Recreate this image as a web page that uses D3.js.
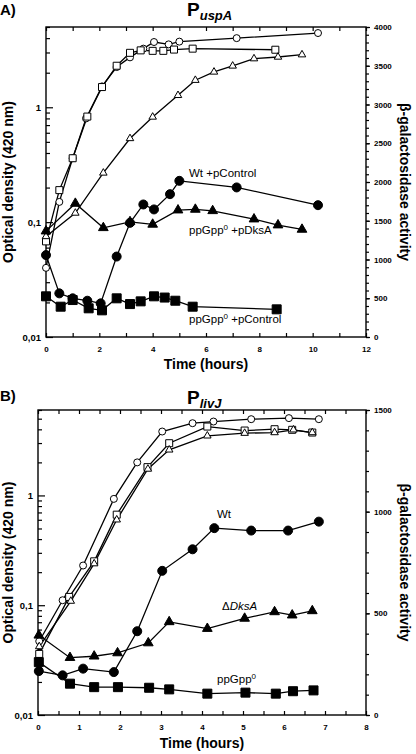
<!DOCTYPE html>
<html><head><meta charset="utf-8">
<script src="https://cdn.jsdelivr.net/npm/d3@7"></script>
<style>
html,body{margin:0;padding:0;background:#fff;}
svg{display:block;font-family:"Liberation Sans",Arial,Helvetica,sans-serif;}
</style></head>
<body>
<svg id="c" width="416" height="754"></svg>
<script>
// ---------- Panel A : P uspA ----------
const aXTicks = [0, 2, 4, 6, 8, 10, 12];
const aRightTicks = [0, 500, 1000, 1500, 2000, 2500, 3000, 3500, 4000];
const aLeftTicks = [0.01, 0.1, 1];
const aLeftLabels = ["0,01", "0,1", "1"];

const aT_odCircle = [0, 0.5, 1, 1.5, 2.1, 2.65, 3.15, 3.65, 4.05, 4.6, 5, 7.15, 10.2];
const aOdCircle   = [0.04, 0.15, 0.36, 0.8, 1.52, 2.24, 2.72, 3.24, 3.7, 3.53, 3.73, 4.0, 4.43];
const aT_odSquare = [0, 0.5, 1, 1.55, 2.1, 2.65, 3.15, 3.55, 4.0, 4.4, 4.8, 5.5, 8.6];
const aOdSquare   = [0.068, 0.19, 0.36, 0.83, 1.5, 2.3, 2.98, 3.13, 3.1, 3.1, 3.18, 3.24, 3.17];
const aT_odTri    = [0, 1.1, 2.15, 3.15, 4.0, 4.95, 5.6, 6.3, 7.0, 7.8, 8.7, 9.6];
const aOdTri      = [0.075, 0.12, 0.268, 0.535, 0.823, 1.27, 1.72, 2.03, 2.29, 2.65, 2.74, 2.87];

const aT_galWt    = [0, 0.5, 1, 1.55, 2.05, 2.65, 3.15, 3.65, 4.05, 4.65, 5, 7.15, 10.2];
const aGalWt      = [1057, 563, 499, 468, 434, 1038, 1473, 1710, 1646, 1843, 2015, 1930, 1701];
const aT_galDksA  = [0, 1.1, 2.15, 3.15, 4.0, 4.95, 5.6, 6.25, 7.8, 8.7, 9.6];
const aGalDksA    = [1366, 1723, 1409, 1486, 1453, 1637, 1646, 1628, 1521, 1444, 1388];
const aT_galCtrl  = [0, 0.55, 1, 1.6, 2.1, 2.65, 3.15, 3.55, 4.05, 4.45, 4.85, 5.5, 8.65];
const aGalCtrl    = [525, 391, 477, 370, 344, 499, 425, 460, 525, 509, 468, 391, 357];

// ---------- Panel B : P livJ ----------
const bXTicks = [0, 1, 2, 3, 4, 5, 6, 7, 8];
const bRightTicks = [0, 500, 1000, 1500];
const bLeftTicks = [0.01, 0.1, 1];
const bLeftLabels = ["0,01", "0,1", "1"];

const bT_odCircle = [0.03, 0.6, 1.1, 1.85, 2.42, 3.03, 3.77, 4.28, 5.2, 6.12, 6.85];
const bOdCircle   = [0.047, 0.111, 0.23, 0.93, 2.0, 3.82, 4.55, 4.71, 4.95, 5.06, 4.95];
const bT_odSquare = [0.03, 0.76, 1.37, 1.92, 2.67, 3.2, 4.13, 5.04, 5.77, 6.2, 6.69];
const bOdSquare   = [0.036, 0.119, 0.251, 0.668, 1.81, 2.99, 4.24, 3.90, 4.01, 3.96, 3.74];
const bT_odTri    = [0.03, 0.8, 1.37, 1.92, 2.68, 3.2, 4.13, 5.04, 5.77, 6.23, 6.69];
const bOdTri      = [0.042, 0.109, 0.239, 0.60, 1.74, 2.6, 3.49, 3.69, 3.74, 3.96, 3.74];

const bT_galWt    = [0.02, 0.6, 1.1, 1.85, 2.42, 3.03, 3.77, 4.3, 5.2, 6.1, 6.85];
const bGalWt      = [216, 195, 228, 211, 412, 709, 815, 919, 907, 907, 951];
const bT_galDksA  = [0.02, 0.78, 1.37, 1.94, 2.69, 3.2, 4.13, 5.04, 5.77, 6.2, 6.69];
const bGalDksA    = [392, 282, 289, 305, 354, 458, 425, 475, 507, 491, 512];
const bT_galPpGpp = [0.02, 0.78, 1.37, 1.95, 2.71, 3.2, 4.13, 5.06, 5.8, 6.22, 6.72];
const bGalPpGpp   = [260, 154, 137, 137, 134, 126, 105, 110, 105, 117, 121];

const svg = d3.select("#c");
svg.append("rect").attr("width",416).attr("height",754).attr("fill","#fff");

function zip(t, v){ return t.map((x,i)=>[x, v[i]]); }

function logMinor(lo, hi){
  const out=[];
  for(let d=lo; d<hi*1.0001; d*=10){
    for(let k=2;k<=9;k++){ const v=k*d; if(v<=hi*1.0001) out.push(v); }
  }
  return out;
}

function panel(cfg){
  const g = svg.append("g");
  const x = d3.scaleLinear([0, cfg.xMax], [cfg.left, cfg.right]);
  const yL = d3.scaleLog([0.01, cfg.odMax], [cfg.bottom, cfg.top]);
  const yR = d3.scaleLinear([0, cfg.galMax], [cfg.bottom, cfg.top]);

  g.append("rect").attr("x",cfg.left).attr("y",cfg.top)
    .attr("width",cfg.right-cfg.left).attr("height",cfg.bottom-cfg.top)
    .attr("fill","none").attr("stroke","#000").attr("stroke-width",1.4);

  const styleAxis = sel => {
    sel.select(".domain").remove();
    sel.selectAll(".tick line").attr("stroke","#000").attr("stroke-width",1.2);
    sel.selectAll("text").attr("fill","#000").style("font-weight","bold");
  };

  const xTickVals = d3.range(0, cfg.xMax + 1e-9, cfg.xMinorStep);
  g.append("g").attr("transform",`translate(0,${cfg.bottom})`)
    .call(d3.axisBottom(x).tickValues(xTickVals).tickSize(-4).tickPadding(9)
      .tickFormat(d => cfg.xTicks.some(t=>Math.abs(t-d)<1e-9) ? d3.format("d")(d) : ""))
    .call(styleAxis).selectAll("text").style("font-size","8px");
  g.append("g").attr("transform",`translate(0,${cfg.top})`)
    .call(d3.axisTop(x).tickValues(xTickVals).tickSize(-4).tickFormat(""))
    .call(styleAxis);

  g.append("g").attr("transform",`translate(${cfg.left},0)`)
    .call(d3.axisLeft(yL).tickValues(cfg.leftTicks).tickSize(-7).tickPadding(5)
      .tickFormat((d,i)=>cfg.leftLabels[i]))
    .call(styleAxis).selectAll("text").style("font-size","9.5px");
  g.append("g").attr("transform",`translate(${cfg.left},0)`)
    .call(d3.axisLeft(yL).tickValues(logMinor(0.01, cfg.odMax)).tickSize(-4).tickFormat(""))
    .call(styleAxis);

  g.append("g").attr("transform",`translate(${cfg.right},0)`)
    .call(d3.axisRight(yR).tickValues(cfg.rightTicks).tickSize(4).tickPadding(4)
      .tickFormat(d3.format("d")))
    .call(styleAxis).selectAll("text").style("font-size","8px");
  g.append("g").attr("transform",`translate(${cfg.right},0)`)
    .call(d3.axisRight(yR).tickValues(d3.range(0, cfg.galMax+1, 100)).tickSize(3).tickFormat(""))
    .call(styleAxis);

  g.append("text").attr("transform",`translate(${cfg.leftTitleX},${(cfg.top+cfg.bottom)/2}) rotate(-90)`)
    .attr("text-anchor","middle").style("font-size","14px").style("font-weight","bold")
    .text("Optical density (420 nm)");
  g.append("text").attr("transform",`translate(${cfg.rightTitleX},${(cfg.top+cfg.bottom)/2}) rotate(90)`)
    .attr("text-anchor","middle").style("font-size","14px").style("font-weight","bold")
    .text("β-galactosidase activity");
  g.append("text").attr("x",(cfg.left+cfg.right)/2).attr("y",cfg.xTitleY)
    .attr("text-anchor","middle").style("font-size","14px").style("font-weight","bold")
    .text("Time (hours)");

  g.append("text").attr("x",0).attr("y",cfg.letterY).style("font-size","15px").style("font-weight","bold").text(cfg.letter);
  const tt = g.append("text").attr("x",cfg.titleX).attr("y",cfg.titleY).style("font-weight","bold");
  tt.append("tspan").style("font-size","19px").text("P");
  tt.append("tspan").attr("dy",4).style("font-size","13px").style("font-style","italic").text(cfg.sub);

  const line = yS => d3.line().x(d=>x(d[0])).y(d=>yS(d[1]));

  cfg.series.forEach(s=>{
    const yS = s.axis==="L" ? yL : yR;
    g.append("path").datum(zip(s.t, s.v)).attr("d", line(yS))
      .attr("fill","none").attr("stroke","#000").attr("stroke-width",1.3);
  });
  cfg.series.forEach(s=>{
    const yS = s.axis==="L" ? yL : yR;
    const data = zip(s.t, s.v);
    const fill = s.filled ? "#000" : "#fff";
    const sz = s.filled ? 9 : 7;
    const shape = s.shape==="circle" ? d3.symbolCircle : s.shape==="square" ? d3.symbolSquare : d3.symbolTriangle;
    const area = s.shape==="circle" ? Math.PI*(sz/2)*(sz/2) : s.shape==="square" ? sz*sz : sz*sz*0.5;
    g.selectAll(null).data(data).enter().append("path")
      .attr("d", d3.symbol(shape, area))
      .attr("transform", d=>`translate(${x(d[0])},${yS(d[1])})`)
      .attr("fill", fill).attr("stroke","#000").attr("stroke-width",1);
  });

  cfg.labels.forEach(l=>{
    const t = g.append("text").attr("x",l.x).attr("y",l.y).style("font-size","11.5px");
    l.parts.forEach(p=>{
      const ts = t.append("tspan").text(p.s);
      if(p.sup){ ts.attr("dy",-4).style("font-size","8px"); }
      if(p.after){ ts.attr("dy",4); }
      if(p.it){ ts.style("font-style","italic"); }
    });
  });
}

panel({
  letter:"A)", letterY:15, titleX:187, titleY:16, sub:"uspA",
  left:46, right:366, top:27, bottom:337, xMax:12, xMinorStep:1, xTicks:aXTicks,
  odMax:5, galMax:4000, leftTicks:aLeftTicks, leftLabels:aLeftLabels, rightTicks:aRightTicks,
  leftTitleX:13, rightTitleX:400, xTitleY:369,
  series:[
    {t:aT_odCircle, v:aOdCircle, axis:"L", shape:"circle", filled:false},
    {t:aT_odSquare, v:aOdSquare, axis:"L", shape:"square", filled:false},
    {t:aT_odTri, v:aOdTri, axis:"L", shape:"triangle", filled:false},
    {t:aT_galWt, v:aGalWt, axis:"R", shape:"circle", filled:true},
    {t:aT_galDksA, v:aGalDksA, axis:"R", shape:"triangle", filled:true},
    {t:aT_galCtrl, v:aGalCtrl, axis:"R", shape:"square", filled:true}
  ],
  labels:[
    {x:189, y:177, parts:[{s:"Wt +pControl"}]},
    {x:189, y:234, parts:[{s:"ppGpp"},{s:"0",sup:true},{s:" +pDksA",after:true}]},
    {x:189, y:323, parts:[{s:"ppGpp"},{s:"0",sup:true},{s:" +pControl",after:true}]}
  ]
});

panel({
  letter:"B)", letterY:401, titleX:187, titleY:404, sub:"livJ",
  left:38, right:366, top:410, bottom:715, xMax:8, xMinorStep:0.5, xTicks:bXTicks,
  odMax:6, galMax:1500, leftTicks:bLeftTicks, leftLabels:bLeftLabels, rightTicks:bRightTicks,
  leftTitleX:13, rightTitleX:400, xTitleY:748,
  series:[
    {t:bT_odCircle, v:bOdCircle, axis:"L", shape:"circle", filled:false},
    {t:bT_odSquare, v:bOdSquare, axis:"L", shape:"square", filled:false},
    {t:bT_odTri, v:bOdTri, axis:"L", shape:"triangle", filled:false},
    {t:bT_galWt, v:bGalWt, axis:"R", shape:"circle", filled:true},
    {t:bT_galDksA, v:bGalDksA, axis:"R", shape:"triangle", filled:true},
    {t:bT_galPpGpp, v:bGalPpGpp, axis:"R", shape:"square", filled:true}
  ],
  labels:[
    {x:217, y:518, parts:[{s:"Wt"}]},
    {x:222, y:610, parts:[{s:"Δ"},{s:"DksA",it:true}]},
    {x:217, y:683, parts:[{s:"ppGpp"},{s:"0",sup:true},{s:"",after:true}]}
  ]
});
</script>
</body></html>
